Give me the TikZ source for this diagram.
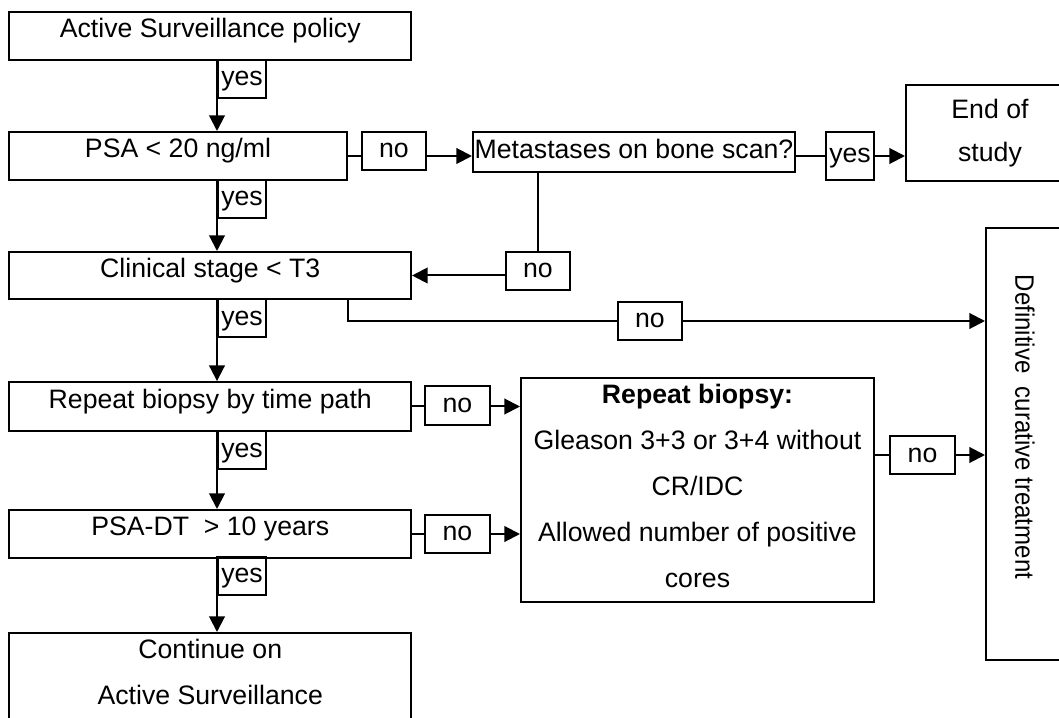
\documentclass[tikz,border=0pt]{standalone}
\usepackage{fontspec}
\setmainfont{Liberation Sans}
\usetikzlibrary{arrows.meta}

\begin{document}
\begin{tikzpicture}
        [
            x=0.45pt, y=-0.45pt,
            every node/.style={draw, line width=0.9pt, inner sep=0pt, font=\fontsize{12}{20.7}\selectfont},
            stage/.style={minimum width=180.7pt, minimum height=21.6pt, text height=8.6pt, text depth=7.2pt},
            answer/.style={minimum width=21.6pt, minimum height=17.1pt, text height=9.3pt, text depth=3pt},
            nobox/.style={answer, minimum width=29pt},
            link/.style={draw, line width=0.9pt},
            arrow/.style={link, -{Triangle[length=7pt, width=7pt]}}
        ]

        \useasboundingbox (0,0) rectangle (1059,718);

        \node[stage] (start) at (210.25,36) {Active Surveillance policy};
        \node[stage, minimum width=151.65pt] (psa) at (178,156) {PSA < 20 ng/ml};
        \node[stage, minimum height=21.15pt] (clin) at (210.25,275.5) {Clinical stage < T3};
        \node[stage, minimum height=22pt] (rep) at (210.25,406.5) {Repeat biopsy by time path};
        \node[stage] (dt) at (210.25,534) {PSA-DT\ \ > 10 years};
        \node[minimum width=180.7pt, minimum height=39.6pt, align=center] (cont) at (210.25,677)
            {Continue on\\Active Surveillance\rule[-4.5pt]{0pt}{0pt}};
        \node[answer, minimum width=144.9pt, minimum height=18pt] (meta) at (634,152) {Metastases on bone scan?};
        \node[minimum width=75.6pt, minimum height=43.2pt, align=center] (end) at (990,133) {End of\\[-1pt]study};
        \node[minimum width=35.1pt, minimum height=194.4pt] (def) at (1025,444)
            {\rotatebox{-90}{\scalebox{0.9}[1]{Definitive\ \ curative treatment}\hspace{15.3pt}}};
        \node[minimum width=158.85pt, minimum height=100.8pt, align=center] (rb) at (697.5,490)
            {\textbf{Repeat biopsy:}\\Gleason 3+3 or 3+4 without\\CR/IDC\\Allowed number of positive\\cores\rule[-4pt]{0pt}{0pt}};

        \node[answer] (yes1) at (242,79) {yes};
        \node[answer] (yes2) at (242,199) {yes};
        \node[answer] (yes3) at (242,318) {yes};
        \node[answer] (yes4) at (242,450) {yes};
        \node[answer] (yes5) at (242,576) {yes};
        \node[answer, minimum height=21.6pt] (yes6) at (850,156) {yes};
        \node[nobox] (no1) at (394,151) {no};
        \node[nobox] (no2) at (538,271) {no};
        \node[nobox] (no3) at (650,321) {no};
        \node[nobox] (no4) at (457.5,405.5) {no};
        \node[nobox] (no5) at (457.5,533.5) {no};
        \node[nobox] (no6) at (922.5,455) {no};

        \draw[arrow] (yes1.north west) -- (yes1.west |- psa.north);
        \draw[arrow] (yes2.north west) -- (yes2.west |- clin.north);
        \draw[arrow] (yes3.north west) -- (yes3.west |- rep.north);
        \draw[arrow] (yes4.north west) -- (yes4.west |- dt.north);
        \draw[arrow] (yes5.north west) -- (yes5.west |- cont.north);

        \draw[link] (psa.east) -- (psa.east -| no1.west);
        \draw[arrow] (no1.east |- psa.east) -- (meta.west |- psa.east);
        \draw[link] (meta.east |- yes6.west) -- (yes6.west);
        \draw[arrow] (yes6.east) -- (yes6.east -| end.west);
        \draw[line width=0.5pt] (no2.north |- meta.south) -- (no2.north);
        \draw[arrow] (no2.west |- clin.east) -- (clin.east);
        \draw[link] (psa.east |- clin.south) |- (no3.west);
        \draw[arrow] (no3.east) -- (no3.east -| def.west);
        \draw[link] (rep.east) -- (rep.east -| no4.west);
        \draw[arrow] (no4.east |- rep.east) -- (rep.east -| rb.west);
        \draw[link] (dt.east) -- (dt.east -| no5.west);
        \draw[arrow] (no5.east |- dt.east) -- (dt.east -| rb.west);
        \draw[link] (rb.east |- no6.west) -- (no6.west);
        \draw[arrow] (no6.east) -- (no6.east -| def.west);
\end{tikzpicture}
\end{document}
